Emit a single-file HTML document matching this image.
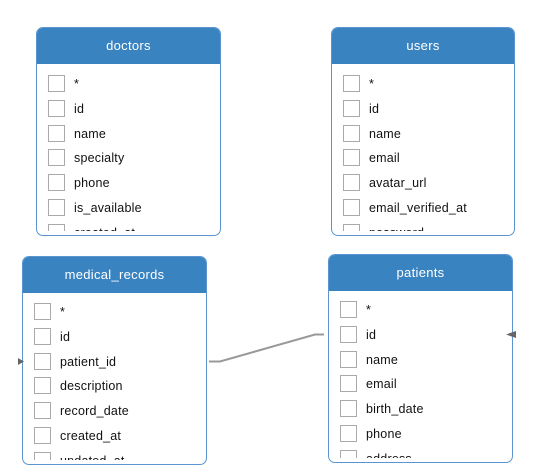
<!DOCTYPE html>
<html><head><meta charset="utf-8"><style>
body{margin:0;width:550px;height:476px;background:#fff;position:relative;overflow:hidden;font-family:"Liberation Sans","DejaVu Sans",sans-serif;}
.t{position:absolute;border:1px solid #5b95cf;border-radius:7px;background:#fff;overflow:hidden;box-sizing:border-box;}
.h{height:36px;background:#3a83c1;color:#fff;text-align:center;line-height:36px;font-size:13px;letter-spacing:0.3px;}
.b{position:absolute;left:0;right:0;top:36px;overflow:hidden;}
.r{position:absolute;left:11px;height:18px;font-size:12.5px;color:#111;line-height:18px;white-space:nowrap;}
.r i{position:absolute;left:0;top:0;width:15px;height:15px;border:1px solid #aaa;box-sizing:content-box;}
.r span{position:absolute;left:26px;top:0;letter-spacing:0.2px;}
</style></head><body>

<div class="t" style="left:36px;top:27px;width:185px;height:209px;">
<div class="h">doctors</div>
<div class="b" style="bottom:4px;">
<div class="r" style="top:11px"><i></i><span>*</span></div>
<div class="r" style="top:36px"><i></i><span>id</span></div>
<div class="r" style="top:61px"><i></i><span>name</span></div>
<div class="r" style="top:85px"><i></i><span>specialty</span></div>
<div class="r" style="top:110px"><i></i><span>phone</span></div>
<div class="r" style="top:135px"><i></i><span>is_available</span></div>
<div class="r" style="top:160px"><i></i><span>created_at</span></div>
</div></div>

<div class="t" style="left:331px;top:27px;width:184px;height:209px;">
<div class="h">users</div>
<div class="b" style="bottom:4px;">
<div class="r" style="top:11px"><i></i><span>*</span></div>
<div class="r" style="top:36px"><i></i><span>id</span></div>
<div class="r" style="top:61px"><i></i><span>name</span></div>
<div class="r" style="top:85px"><i></i><span>email</span></div>
<div class="r" style="top:110px"><i></i><span>avatar_url</span></div>
<div class="r" style="top:135px"><i></i><span>email_verified_at</span></div>
<div class="r" style="top:160px"><i></i><span>password</span></div>
</div></div>

<div class="t" style="left:22px;top:256px;width:185px;height:209px;">
<div class="h">medical_records</div>
<div class="b" style="bottom:4px;">
<div class="r" style="top:10px"><i></i><span>*</span></div>
<div class="r" style="top:35px"><i></i><span>id</span></div>
<div class="r" style="top:60px"><i></i><span>patient_id</span></div>
<div class="r" style="top:84px"><i></i><span>description</span></div>
<div class="r" style="top:109px"><i></i><span>record_date</span></div>
<div class="r" style="top:134px"><i></i><span>created_at</span></div>
<div class="r" style="top:159px"><i></i><span>updated_at</span></div>
</div></div>

<div class="t" style="left:328px;top:254px;width:185px;height:209px;">
<div class="h">patients</div>
<div class="b" style="bottom:4px;">
<div class="r" style="top:10px"><i></i><span>*</span></div>
<div class="r" style="top:35px"><i></i><span>id</span></div>
<div class="r" style="top:60px"><i></i><span>name</span></div>
<div class="r" style="top:84px"><i></i><span>email</span></div>
<div class="r" style="top:109px"><i></i><span>birth_date</span></div>
<div class="r" style="top:134px"><i></i><span>phone</span></div>
<div class="r" style="top:159px"><i></i><span>address</span></div>
</div></div>

<svg width="550" height="476" style="position:absolute;left:0;top:0;">
<polyline points="209,361.5 220,361.5 315,334.5 324,334.5" fill="none" stroke="#999" stroke-width="2"/>
<polygon points="18,358 18,365 24,361.5" fill="#666"/>
<polygon points="506,334.5 516,331 516,338" fill="#666"/>
</svg>
</body></html>
